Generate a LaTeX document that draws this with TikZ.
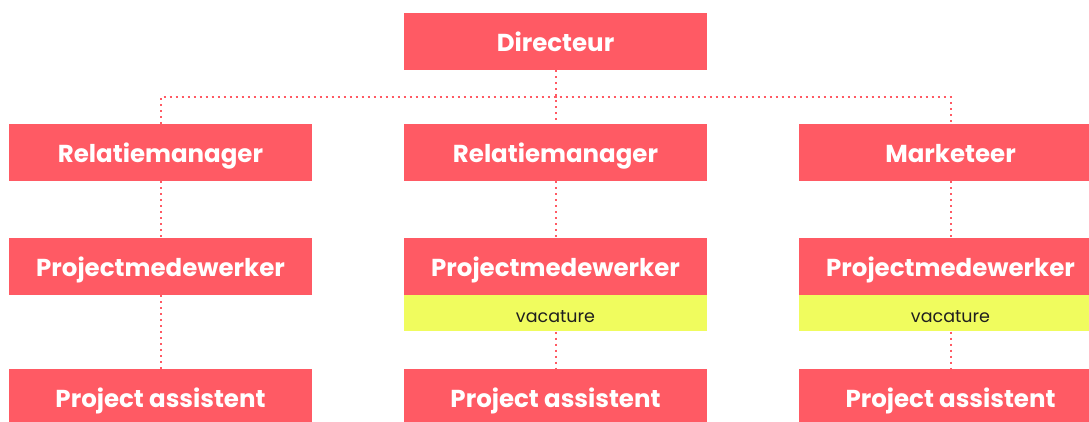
\documentclass[tikz,border=0pt]{standalone}
\usepackage{fontspec}
\setmainfont{Poppins}
\begin{document}
\begin{tikzpicture}[x=1pt,y=-1pt,
  role/.style={fill=boxred, text=white, font=\fontsize{24.5}{24.5}\selectfont\bfseries,
    minimum width=303pt, minimum height=57pt, inner sep=0pt, anchor=center,
    text height=19pt, text depth=0pt},
  vac/.style={fill=vacyellow, text=black!88, font=\fontsize{17.5}{17.5}\selectfont,
    minimum width=303pt, minimum height=36pt, inner sep=0pt, anchor=north,
    text height=17.4pt, text depth=0pt},
  link/.style={draw=boxred, line width=2pt, dash pattern=on 2pt off 4pt}]
\definecolor{boxred}{HTML}{FF5A64}
\definecolor{vacyellow}{HTML}{F0FC5E}
\useasboundingbox (0,0) rectangle (1089,421);
\clip (0,0) rectangle (1089,421);

% top level
\node[role] (dir) at (555.5,41.5) {Directeur};

% second level
\node[role] (l2) at (160.5,152.5) {Relatiemanager};
\node[role] (m2) at (555.5,152.5) {Relatiemanager};
\node[role] (r2) at (950.5,152.5) {Marketeer};

% third level
\node[role] (l3) at (160.5,266.5) {Projectmedewerker};
\node[role] (m3) at (555.5,266.5) {Projectmedewerker};
\node[role] (r3) at (950.5,266.5) {Projectmedewerker};
\node[vac] (mv) at (m3.south) {vacature};
\node[vac] (rv) at (r3.south) {vacature};

% fourth level
\node[role] (l4) at (160.5,397.5) {Project assistent};
\node[role] (m4) at (555.5,397.5) {Project assistent};
\node[role] (r4) at (950.5,397.5) {Project assistent};

% connectors
\coordinate (bus) at (555.5,97);
\draw[link] (dir.south) -- (m2.north);
\draw[link] (l2.north) |- (bus) -| (r2.north);
\draw[link] (l2.south) -- (l3.north);
\draw[link] (m2.south) -- (m3.north);
\draw[link] (r2.south) -- (r3.north);
\draw[link] (l3.south) -- (l4.north);
\draw[link] (mv.south) -- (m4.north);
\draw[link] (rv.south) -- (r4.north);
\end{tikzpicture}
\end{document}
